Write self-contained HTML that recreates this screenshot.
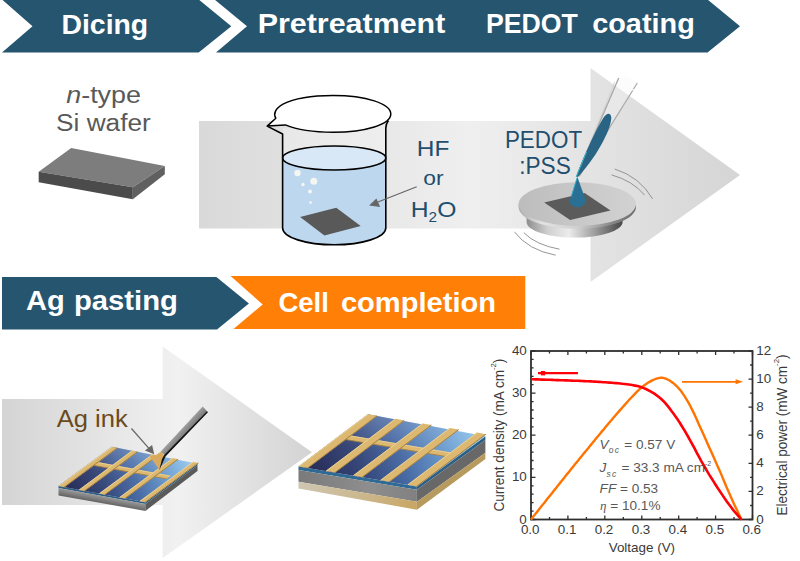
<!DOCTYPE html>
<html><head><meta charset="utf-8"><title>Process flow</title>
<style>
html,body{margin:0;padding:0;background:#fff;}
body{width:800px;height:561px;overflow:hidden;}
svg{display:block;font-family:"Liberation Sans",sans-serif;}
</style></head><body>
<svg width="800" height="561" viewBox="0 0 800 561">
<rect width="800" height="561" fill="#fff"/>
<defs>
<linearGradient id="ga1" gradientUnits="userSpaceOnUse" x1="199" y1="0" x2="740" y2="0">
<stop offset="0" stop-color="#d9d9d9"/><stop offset="0.5" stop-color="#efefef"/><stop offset="1" stop-color="#d5d5d5"/></linearGradient>
<linearGradient id="ga2" gradientUnits="userSpaceOnUse" x1="0" y1="0" x2="312" y2="0">
<stop offset="0" stop-color="#d4d4d4"/><stop offset="0.57" stop-color="#f1f1f1"/><stop offset="1" stop-color="#d3d3d3"/></linearGradient>
<linearGradient id="gdisc" gradientUnits="userSpaceOnUse" x1="526" y1="0" x2="623" y2="0">
<stop offset="0" stop-color="#8c8c8c"/><stop offset="0.22" stop-color="#cfcfcf"/><stop offset="0.44" stop-color="#ececec"/><stop offset="0.7" stop-color="#a0a0a0"/><stop offset="0.9" stop-color="#626262"/><stop offset="1" stop-color="#484848"/></linearGradient>
<linearGradient id="gplate" gradientUnits="userSpaceOnUse" x1="518" y1="0" x2="637" y2="0">
<stop offset="0" stop-color="#a9a9a9"/><stop offset="0.2" stop-color="#e2e2e2"/><stop offset="0.5" stop-color="#d0d0d0"/><stop offset="0.8" stop-color="#858585"/><stop offset="1" stop-color="#6e6e6e"/></linearGradient>
<linearGradient id="gdisctop" gradientUnits="userSpaceOnUse" x1="518" y1="0" x2="637" y2="0">
<stop offset="0" stop-color="#bcbcbc"/><stop offset="0.5" stop-color="#c8c8c8"/><stop offset="1" stop-color="#d2d2d2"/></linearGradient>
<linearGradient id="gcell1" gradientUnits="userSpaceOnUse" x1="62" y1="490" x2="195" y2="462">
<stop offset="0" stop-color="#262953"/><stop offset="0.3" stop-color="#354678"/><stop offset="0.55" stop-color="#486ba5"/><stop offset="0.8" stop-color="#699dd0"/><stop offset="1" stop-color="#8fc9ef"/></linearGradient>
<linearGradient id="gcell2" gradientUnits="userSpaceOnUse" x1="302" y1="470" x2="482" y2="436">
<stop offset="0" stop-color="#252852"/><stop offset="0.3" stop-color="#334375"/><stop offset="0.55" stop-color="#4668a2"/><stop offset="0.8" stop-color="#6699cd"/><stop offset="1" stop-color="#86c1e9"/></linearGradient>
<linearGradient id="gpen" gradientUnits="userSpaceOnUse" x1="180" y1="430" x2="185.5" y2="435">
<stop offset="0" stop-color="#a2a2a2"/><stop offset="1" stop-color="#787878"/></linearGradient>
<linearGradient id="gside1" gradientUnits="userSpaceOnUse" x1="58.5" y1="487.9" x2="56.9" y2="496.6">
<stop offset="0" stop-color="#9a9a9a"/><stop offset="1" stop-color="#585858"/></linearGradient>
<linearGradient id="gside2" gradientUnits="userSpaceOnUse" x1="298" y1="0" x2="417" y2="0">
<stop offset="0" stop-color="#7a7a7a"/><stop offset="0.6" stop-color="#8e8e8e"/><stop offset="1" stop-color="#808080"/></linearGradient>
<linearGradient id="gbot2" gradientUnits="userSpaceOnUse" x1="298" y1="0" x2="417" y2="0">
<stop offset="0" stop-color="#cfc6b2"/><stop offset="0.55" stop-color="#cbb78d"/><stop offset="1" stop-color="#c9a662"/></linearGradient>
<filter id="blur" x="-30%" y="-50%" width="160%" height="200%"><feGaussianBlur stdDeviation="1.6"/></filter>
<linearGradient id="gova" gradientUnits="userSpaceOnUse" x1="58.5" y1="486.1" x2="67.4" y2="438.5">
<stop offset="0" stop-color="#cfe4ff" stop-opacity="0"/><stop offset="0.45" stop-color="#cfe4ff" stop-opacity="0.04"/><stop offset="1" stop-color="#cfe4ff" stop-opacity="0.24"/></linearGradient>
<linearGradient id="govb" gradientUnits="userSpaceOnUse" x1="298.5" y1="466.4" x2="309" y2="404.1">
<stop offset="0" stop-color="#cfe4ff" stop-opacity="0"/><stop offset="0.45" stop-color="#cfe4ff" stop-opacity="0.04"/><stop offset="1" stop-color="#cfe4ff" stop-opacity="0.24"/></linearGradient>
</defs>
<path d="M199 121 H590.5 V68 L740 175 L590.5 282 V228.5 H199 Z" fill="url(#ga1)"/>
<path d="M2 399 H162.7 V346.5 L312 452.3 L162.7 558 V505 H2 Z" fill="url(#ga2)"/>
<path d="M2 -0.5 H198.7 L231.3 26.3 L198.7 52.6 H2 L32.5 26.3 Z" fill="#26556f"/>
<path d="M214.5 -0.5 H707.5 L740 26.3 L707.5 52.6 H216 L247 26.3 Z" fill="#26556f"/>
<path d="M2 277 H216.4 L248.9 303.6 L217 329.4 H2 Z" fill="#26556f"/>
<path d="M230.6 276 H525.3 V329 H233.5 L262.7 304.5 Z" fill="#ff7f07"/>
<text x="61.5" y="33.8" font-size="27.2" fill="#fff" font-weight="bold" textLength="86.7" lengthAdjust="spacingAndGlyphs" >Dicing</text>
<text x="257.7" y="33.2" font-size="27.2" fill="#fff" font-weight="bold" textLength="187.6" lengthAdjust="spacingAndGlyphs" >Pretreatment</text>
<text x="486" y="33.2" font-size="27.2" fill="#fff" font-weight="bold" textLength="91.9" lengthAdjust="spacingAndGlyphs" >PEDOT</text>
<text x="592.2" y="33.2" font-size="27.2" fill="#fff" font-weight="bold" textLength="102.6" lengthAdjust="spacingAndGlyphs" >coating</text>
<text x="26.1" y="310" font-size="27.2" fill="#fff" font-weight="bold" textLength="38.7" lengthAdjust="spacingAndGlyphs" >Ag</text>
<text x="74" y="310" font-size="27.2" fill="#fff" font-weight="bold" textLength="103.9" lengthAdjust="spacingAndGlyphs" >pasting</text>
<text x="278.4" y="312.3" font-size="27.2" fill="#fff" font-weight="bold" textLength="50.5" lengthAdjust="spacingAndGlyphs" >Cell</text>
<text x="340.9" y="312.3" font-size="27.2" fill="#fff" font-weight="bold" textLength="155.1" lengthAdjust="spacingAndGlyphs" >completion</text>
<text x="66.2" y="103.2" font-size="23.5" fill="#595959" textLength="74.8" lengthAdjust="spacingAndGlyphs" ><tspan font-style="italic">n</tspan>-type</text>
<text x="56" y="131.2" font-size="23.5" fill="#595959" textLength="94.8" lengthAdjust="spacingAndGlyphs" >Si wafer</text>
<path d="M38.7 171.8 L71.2 147.9 L164.8 166.1 L132.8 187.3 Z" fill="#7d7d7d"/>
<path d="M38.7 171.8 L132.8 187.3 V199.3 L38.7 182.3 Z" fill="#4b4b4b"/>
<path d="M132.8 187.3 L164.8 166.1 V174.3 L132.8 199.3 Z" fill="#606060"/>
<path d="M282.6 128 V228 A51.6 16.8 0 0 0 385.8 228 V123 Z" fill="#fff" fill-opacity="0.28"/>
<path d="M282.6 158 A51.6 12 0 0 0 385.8 158 V228 A51.6 16.8 0 0 1 282.6 228 Z" fill="#bdd7ee"/>
<ellipse cx="334.2" cy="158" rx="51.6" ry="12" fill="#d9e8f6" stroke="#000" stroke-width="1.5"/>
<path d="M300.1 216.9 L336.3 207.7 L360.7 225.9 L324.4 235.6 Z" fill="#595959"/>
<circle cx="297.5" cy="173" r="3.2" fill="#f5f6f4"/>
<circle cx="313.8" cy="181.3" r="3.5" fill="#f5f6f4"/>
<circle cx="303" cy="184.5" r="1.7" fill="#f5f6f4"/>
<circle cx="310" cy="191.6" r="2" fill="#f5f6f4"/>
<circle cx="310.6" cy="202.6" r="1.4" fill="#f5f6f4"/>
<path d="M267.2 126.1 L282.6 134 V228 A51.6 16.8 0 0 0 385.8 228 V128 Q385.8 124 388.4 120.5" fill="none" stroke="#000" stroke-width="1.6" stroke-linejoin="round"/>
<path d="M267.2 126.1 L275.8 118.2 C273 113.5 275.5 108.5 283 104.2 C295 98 312 95.6 333 95.6 C366 95.6 390.8 103.5 390.8 114 C390.8 124.3 366 132.2 333 132.2 C312 132.2 296 129.3 285.4 124.9 Z" fill="#fff" stroke="#000" stroke-width="1.5" stroke-linejoin="round"/>
<line x1="416.7" y1="186.7" x2="376" y2="202.8" stroke="#666" stroke-width="1.2"/>
<path d="M369.1 205.6 L376.4 198.4 L380.2 206.9 Z" fill="#666"/>
<text x="416.8" y="156.4" font-size="22.5" fill="#1f4e6e" textLength="32.6" lengthAdjust="spacingAndGlyphs" >HF</text>
<text x="423.2" y="184.8" font-size="20.5" fill="#1f4e6e" textLength="20.3" lengthAdjust="spacingAndGlyphs" >or</text>
<text x="410.8" y="217.3" font-size="22.5" fill="#1f4e6e" textLength="45.6" lengthAdjust="spacingAndGlyphs" >H<tspan font-size="14" dy="4.5">2</tspan><tspan dy="-4.5">O</tspan></text>
<text x="504.9" y="148.4" font-size="23.5" fill="#1f4e6e" textLength="77.2" lengthAdjust="spacingAndGlyphs" >PEDOT</text>
<text x="519.2" y="174" font-size="23.5" fill="#1f4e6e" textLength="51.6" lengthAdjust="spacingAndGlyphs" >:PSS</text>
<path d="M526.6 212 V222 A48 15.6 0 0 0 622.6 222 V212 Z" fill="url(#gdisc)"/>
<path d="M518.6 204.1 V207.1 A58.7 21.8 0 0 0 636 207.1 V204.1 Z" fill="url(#gplate)"/>
<ellipse cx="577.3" cy="204.1" rx="58.7" ry="21.8" fill="url(#gdisctop)"/>
<path d="M544.2 202.5 L584.6 193.1 L610.5 210.6 L570.1 219.9 Z" fill="#5b5b5b"/>
<path d="M577.3 176.8 L569.7 200.8 C569.4 209.6 585.9 209.2 585.7 200 Z" fill="#2a7095"/>
<path d="M577 178 L571.3 196.5" stroke="#36b3cb" stroke-width="0.9" fill="none"/>
<ellipse cx="627.3" cy="79.5" rx="12.5" ry="6.5" transform="rotate(13 627.3 79.5)" fill="#fff" filter="url(#blur)"/>
<path d="M576.4 176.7 L618.7 78.4 Q627 72.5 637.2 83 L579.2 176.4 Z" fill="#f6f6f6" fill-opacity="0.35"/>
<path d="M576.2 176.7 L614.7 82" stroke="#d2d2d2" stroke-width="0.9" fill="none"/>
<path d="M576.4 176.7 L618.7 78" stroke="#a6a6a6" stroke-width="1.3" fill="none"/>
<path d="M579.2 176.4 L637.3 83" stroke="#ababab" stroke-width="1.3" fill="none"/>
<path d="M621 88.5 Q627.5 92 634 89.5" stroke="#fbfbfb" stroke-width="1.2" fill="none"/>
<path d="M576.3 176.7 C581 162 597 127 604.3 116.6 C607 112.4 611.2 112.8 611.3 117.5 C611.4 127 600 153 578.2 176.7 Z" fill="#2a6485"/>
<path d="M576.3 176.5 L586.5 152" stroke="#3fc0d0" stroke-width="1" fill="none"/>
<path d="M614.7 169 Q640 177 652.6 198.9" stroke="#8a8a8a" stroke-width="0.9" fill="none"/>
<path d="M611.6 174.9 Q633 181 644.5 195" stroke="#8a8a8a" stroke-width="0.9" fill="none"/>
<path d="M514.4 231.8 Q528 250 555.7 255.2" stroke="#8a8a8a" stroke-width="0.9" fill="none"/>
<path d="M523.8 232.7 Q536 245 559.5 249.2" stroke="#8a8a8a" stroke-width="0.9" fill="none"/>
<path d="M58.5 486.1 L145.4 502.3 L145.4 504.1 L58.5 487.9 Z" fill="#2d5f86" />
<path d="M145.4 502.3 L197.5 463.7 L197.5 465.5 L145.4 504.1 Z" fill="#2d5f86" />
<path d="M58.5 487.9 L145.4 504.1 L145.4 510.9 L58.5 495.4 Z" fill="url(#gside1)" />
<path d="M145.4 504.1 L197.5 465.5 L197.5 471.1 L145.4 510.9 Z" fill="#5a5a5a" />
<path d="M58.5 486.1 L111.8 446.8 L197.5 463.7 L145.4 502.3 Z" fill="url(#gcell1)" />
<path d="M58.5 486.1 L111.8 446.8 L197.5 463.7 L145.4 502.3 Z" fill="url(#gova)" />
<path d="M90.7 464.8 L95.0 461.6 L170.6 475.7 L166.3 478.9 Z" fill="#dcb870" />
<path d="M90.7 464.8 L166.3 478.9" stroke="#a5803f" stroke-width="0.9"/>
<path d="M95.0 462.0 L170.6 476.1" stroke="#efd8a0" stroke-width="0.7"/>
<path d="M58.5 486.1 L111.8 446.8 L117.7 447.9 L64.4 487.2 Z" fill="#dcb870" />
<path d="M64.0 487.2 L117.3 447.9" stroke="#a5803f" stroke-width="1"/>
<path d="M59.0 486.1 L112.3 446.8" stroke="#f0d9a2" stroke-width="0.8"/>
<path d="M78.7 489.9 L132.0 450.6 L138.0 451.7 L84.7 491.0 Z" fill="#dcb870" />
<path d="M84.3 491.0 L137.6 451.7" stroke="#a5803f" stroke-width="1"/>
<path d="M79.2 489.9 L132.5 450.6" stroke="#f0d9a2" stroke-width="0.8"/>
<path d="M99.0 493.6 L152.3 454.3 L158.2 455.5 L104.9 494.8 Z" fill="#dcb870" />
<path d="M104.5 494.8 L157.8 455.5" stroke="#a5803f" stroke-width="1"/>
<path d="M99.5 493.6 L152.8 454.3" stroke="#f0d9a2" stroke-width="0.8"/>
<path d="M119.2 497.4 L172.5 458.1 L178.5 459.2 L125.2 498.5 Z" fill="#dcb870" />
<path d="M124.8 498.5 L178.1 459.2" stroke="#a5803f" stroke-width="1"/>
<path d="M119.7 497.4 L173.0 458.1" stroke="#f0d9a2" stroke-width="0.8"/>
<path d="M139.5 501.2 L192.8 461.9 L198.7 463.0 L145.4 502.3 Z" fill="#dcb870" />
<path d="M145.0 502.3 L198.3 463.0" stroke="#a5803f" stroke-width="1"/>
<path d="M140.0 501.2 L193.3 461.9" stroke="#f0d9a2" stroke-width="0.8"/>
<path d="M149.2 455.8 L156 455 L161.2 451.6 L164.6 456.5 L159.2 469.8 L153.2 461 Z" fill="#d9aa5c"/>
<path d="M202.7 406.4 L207.7 412.1 L165.4 455.9 L160.7 451.6 Z" fill="url(#gpen)"/>
<path d="M207.9 412.3 L165.7 456.2 L159.2 470.2 L162 459 L164.2 455 L206.9 411.2 Z" fill="#161616"/>
<line x1="131.4" y1="428.5" x2="150" y2="449.6" stroke="#666" stroke-width="1.2"/>
<path d="M154.2 454.2 L145 450.6 L152.1 444.9 Z" fill="#666"/>
<text x="56.7" y="427.3" font-size="23.5" fill="#6b4a1c" textLength="71" lengthAdjust="spacingAndGlyphs" >Ag ink</text>
<path d="M298.5 466.4 L416.9 486.4 L416.9 489.8 L298.5 469.9 Z" fill="#2e6a93" />
<path d="M416.9 486.4 L485.4 436.2 L485.4 440.0 L416.9 489.8 Z" fill="#2a5f87" />
<path d="M298.5 469.9 L416.9 489.8 L416.9 501.8 L298.5 481.8 Z" fill="url(#gside2)" />
<path d="M416.9 489.8 L485.4 440.0 L485.4 452.7 L416.9 501.8 Z" fill="#686868" />
<path d="M298.5 481.8 L416.9 501.8 L416.9 509.8 L298.5 488.4 Z" fill="url(#gbot2)" />
<path d="M416.9 501.8 L485.4 452.7 L485.4 459.0 L416.9 509.8 Z" fill="#b79a5e" />
<path d="M298.5 466.4 L367.9 414.2 L485.4 436.2 L416.9 486.4 Z" fill="url(#gcell2)" />
<path d="M298.5 466.4 L367.9 414.2 L485.4 436.2 L416.9 486.4 Z" fill="url(#govb)" />
<path d="M339.9 438.6 L345.1 434.6 L456.4 453.4 L451.2 457.4 Z" fill="#dcb870" />
<path d="M339.9 438.6 L451.2 457.4" stroke="#a5803f" stroke-width="0.9"/>
<path d="M345.1 435.0 L456.4 453.8" stroke="#efd8a0" stroke-width="0.7"/>
<path d="M298.5 466.4 L367.9 414.2 L377.4 415.8 L308.0 468.0 Z" fill="#dcb870" />
<path d="M307.6 468.0 L377.0 415.8" stroke="#a5803f" stroke-width="1"/>
<path d="M299.0 466.4 L368.4 414.2" stroke="#f0d9a2" stroke-width="0.8"/>
<path d="M325.7 471.0 L395.1 418.8 L404.6 420.4 L335.2 472.6 Z" fill="#dcb870" />
<path d="M334.8 472.6 L404.2 420.4" stroke="#a5803f" stroke-width="1"/>
<path d="M326.2 471.0 L395.6 418.8" stroke="#f0d9a2" stroke-width="0.8"/>
<path d="M353.0 475.6 L422.4 423.4 L431.8 425.0 L362.4 477.2 Z" fill="#dcb870" />
<path d="M362.0 477.2 L431.4 425.0" stroke="#a5803f" stroke-width="1"/>
<path d="M353.5 475.6 L422.9 423.4" stroke="#f0d9a2" stroke-width="0.8"/>
<path d="M380.2 480.2 L449.6 428.0 L459.1 429.6 L389.7 481.8 Z" fill="#dcb870" />
<path d="M389.3 481.8 L458.7 429.6" stroke="#a5803f" stroke-width="1"/>
<path d="M380.7 480.2 L450.1 428.0" stroke="#f0d9a2" stroke-width="0.8"/>
<path d="M407.4 484.8 L476.8 432.6 L486.3 434.2 L416.9 486.4 Z" fill="#dcb870" />
<path d="M416.5 486.4 L485.9 434.2" stroke="#a5803f" stroke-width="1"/>
<path d="M407.9 484.8 L477.3 432.6" stroke="#f0d9a2" stroke-width="0.8"/>
<rect x="531.0" y="351.0" width="221.5" height="168.5" fill="#fff" stroke="#2e2e2e" stroke-width="1.8"/>
<path d="M531.0 519.5 v-4 M531.0 351.0 v4 M549.5 519.5 v-2.5 M549.5 351.0 v2.5 M567.9 519.5 v-4 M567.9 351.0 v4 M586.4 519.5 v-2.5 M586.4 351.0 v2.5 M604.8 519.5 v-4 M604.8 351.0 v4 M623.3 519.5 v-2.5 M623.3 351.0 v2.5 M641.8 519.5 v-4 M641.8 351.0 v4 M660.2 519.5 v-2.5 M660.2 351.0 v2.5 M678.7 519.5 v-4 M678.7 351.0 v4 M697.1 519.5 v-2.5 M697.1 351.0 v2.5 M715.6 519.5 v-4 M715.6 351.0 v4 M734.0 519.5 v-2.5 M734.0 351.0 v2.5 M752.5 519.5 v-4 M752.5 351.0 v4 M531.0 519.5 h4.5 M531.0 511.1 h2.6 M531.0 502.6 h2.6 M531.0 494.2 h2.6 M531.0 485.8 h2.6 M531.0 477.4 h4.5 M531.0 468.9 h2.6 M531.0 460.5 h2.6 M531.0 452.1 h2.6 M531.0 443.7 h2.6 M531.0 435.2 h4.5 M531.0 426.8 h2.6 M531.0 418.4 h2.6 M531.0 410.0 h2.6 M531.0 401.6 h2.6 M531.0 393.1 h4.5 M531.0 384.7 h2.6 M531.0 376.3 h2.6 M531.0 367.9 h2.6 M531.0 359.4 h2.6 M531.0 351.0 h4.5 M752.5 519.5 h-4 M752.5 505.5 h-2.4 M752.5 491.4 h-4 M752.5 477.4 h-2.4 M752.5 463.3 h-4 M752.5 449.3 h-2.4 M752.5 435.2 h-4 M752.5 421.2 h-2.4 M752.5 407.2 h-4 M752.5 393.1 h-2.4 M752.5 379.1 h-4 M752.5 365.0 h-2.4 M752.5 351.0 h-4" stroke="#2e2e2e" stroke-width="1.3" fill="none"/>
<text x="530.2" y="533.6" font-size="13.4" fill="#3a3a3a" text-anchor="middle" >0.0</text>
<text x="567.1" y="533.6" font-size="13.4" fill="#3a3a3a" text-anchor="middle" >0.1</text>
<text x="604.0" y="533.6" font-size="13.4" fill="#3a3a3a" text-anchor="middle" >0.2</text>
<text x="641.0" y="533.6" font-size="13.4" fill="#3a3a3a" text-anchor="middle" >0.3</text>
<text x="677.9" y="533.6" font-size="13.4" fill="#3a3a3a" text-anchor="middle" >0.4</text>
<text x="714.8" y="533.6" font-size="13.4" fill="#3a3a3a" text-anchor="middle" >0.5</text>
<text x="751.7" y="533.6" font-size="13.4" fill="#3a3a3a" text-anchor="middle" >0.6</text>
<text x="526.8" y="523.5" font-size="13.4" fill="#3a3a3a" text-anchor="end" >0</text>
<text x="526.8" y="481.4" font-size="13.4" fill="#3a3a3a" text-anchor="end" >10</text>
<text x="526.8" y="439.2" font-size="13.4" fill="#3a3a3a" text-anchor="end" >20</text>
<text x="526.8" y="397.1" font-size="13.4" fill="#3a3a3a" text-anchor="end" >30</text>
<text x="526.8" y="355.0" font-size="13.4" fill="#3a3a3a" text-anchor="end" >40</text>
<text x="756.3" y="523.5" font-size="13.4" fill="#3a3a3a" >0</text>
<text x="756.3" y="495.4" font-size="13.4" fill="#3a3a3a" >2</text>
<text x="756.3" y="467.3" font-size="13.4" fill="#3a3a3a" >4</text>
<text x="756.3" y="439.2" font-size="13.4" fill="#3a3a3a" >6</text>
<text x="756.3" y="411.2" font-size="13.4" fill="#3a3a3a" >8</text>
<text x="756.3" y="383.1" font-size="13.4" fill="#3a3a3a" >10</text>
<text x="756.3" y="355.0" font-size="13.4" fill="#3a3a3a" >12</text>
<text x="641.9" y="552.3" font-size="13.4" fill="#3a3a3a" text-anchor="middle" textLength="66.4" lengthAdjust="spacingAndGlyphs" >Voltage (V)</text>
<text transform="translate(503.8 511.6) rotate(-90)" font-size="14" fill="#3a3a3a" textLength="153" lengthAdjust="spacingAndGlyphs">Current density (mA cm<tspan font-size="8" dy="-7.6">-2</tspan><tspan dy="7.6">)</tspan></text>
<text transform="translate(787 515.5) rotate(-90)" font-size="14" fill="#3a3a3a" textLength="161" lengthAdjust="spacingAndGlyphs">Electrical power (mW cm<tspan font-size="8" dy="-7.6">-2</tspan><tspan dy="7.6">)</tspan></text>
<path d="M531.0 519.5 L533.1 516.8 L535.3 514.1 L537.4 511.4 L539.5 508.8 L541.6 506.1 L543.8 503.4 L545.9 500.7 L548.0 498.0 L550.1 495.4 L552.3 492.7 L554.4 490.0 L556.5 487.4 L558.6 484.7 L560.8 482.1 L562.9 479.4 L565.0 476.8 L567.1 474.1 L569.3 471.5 L571.4 468.8 L573.5 466.2 L575.6 463.6 L577.8 460.9 L579.9 458.3 L582.0 455.7 L584.1 453.1 L586.3 450.5 L588.4 447.9 L590.5 445.3 L592.6 442.7 L594.8 440.1 L596.9 437.5 L599.0 435.0 L601.1 432.4 L603.3 429.9 L605.4 427.3 L607.5 424.8 L609.6 422.3 L611.8 419.8 L613.9 417.3 L616.0 414.8 L618.1 412.4 L620.3 409.9 L622.4 407.5 L624.5 405.1 L626.6 402.7 L628.8 400.3 L630.9 398.0 L633.0 395.8 L635.1 393.6 L637.3 391.4 L639.4 389.4 L641.5 387.6 L643.7 385.8 L645.8 384.2 L647.9 382.8 L650.0 381.6 L652.2 380.4 L654.3 379.5 L656.4 378.7 L658.5 378.1 L660.7 377.8 L662.8 377.8 L664.9 378.3 L667.0 379.2 L669.2 380.3 L671.3 381.7 L673.4 383.2 L675.5 385.1 L677.7 387.2 L679.8 389.6 L681.9 392.3 L684.0 395.4 L686.2 398.8 L688.3 402.4 L690.4 406.3 L692.5 410.4 L694.7 414.9 L696.8 419.6 L698.9 424.4 L701.0 429.0 L703.2 433.7 L705.3 438.4 L707.4 443.2 L709.5 447.9 L711.7 452.7 L713.8 457.5 L715.9 462.2 L718.0 467.1 L720.2 471.9 L722.3 476.9 L724.4 482.0 L726.5 487.0 L728.7 491.9 L730.8 496.7 L732.9 501.4 L735.0 506.0 L737.2 510.6 L739.3 515.1 L741.4 519.5" stroke="#ff7300" stroke-width="2.4" fill="none" stroke-linejoin="round"/>
<path d="M531.0 379.2 L533.1 379.3 L535.3 379.4 L537.4 379.4 L539.5 379.5 L541.6 379.6 L543.8 379.6 L545.9 379.7 L548.0 379.8 L550.1 379.8 L552.3 379.9 L554.4 380.0 L556.5 380.1 L558.6 380.1 L560.8 380.2 L562.9 380.3 L565.0 380.4 L567.1 380.4 L569.3 380.5 L571.4 380.6 L573.5 380.7 L575.6 380.7 L577.8 380.8 L579.9 380.9 L582.0 381.0 L584.1 381.1 L586.3 381.2 L588.4 381.3 L590.5 381.4 L592.6 381.5 L594.8 381.6 L596.9 381.8 L599.0 381.9 L601.1 382.0 L603.3 382.2 L605.4 382.3 L607.5 382.5 L609.6 382.6 L611.8 382.8 L613.9 383.0 L616.0 383.1 L618.1 383.3 L620.3 383.5 L622.4 383.8 L624.5 384.0 L626.6 384.2 L628.8 384.5 L630.9 384.8 L633.0 385.2 L635.1 385.6 L637.3 386.0 L639.4 386.6 L641.5 387.3 L643.7 388.1 L645.8 389.0 L647.9 390.0 L650.0 391.1 L652.2 392.4 L654.3 393.7 L656.4 395.1 L658.5 396.7 L660.7 398.5 L662.8 400.5 L664.9 402.7 L667.0 405.2 L669.2 407.9 L671.3 410.7 L673.4 413.5 L675.5 416.5 L677.7 419.6 L679.8 422.8 L681.9 426.2 L684.0 429.7 L686.2 433.3 L688.3 437.0 L690.4 440.8 L692.5 444.7 L694.7 448.7 L696.8 452.8 L698.9 456.7 L701.0 460.6 L703.2 464.3 L705.3 468.0 L707.4 471.6 L709.5 475.1 L711.7 478.5 L713.8 481.9 L715.9 485.2 L718.0 488.5 L720.2 491.7 L722.3 494.9 L724.4 498.0 L726.5 501.1 L728.7 504.0 L730.8 506.8 L732.9 509.6 L735.0 512.2 L737.2 514.7 L739.3 517.2 L741.4 519.5" stroke="#ff0008" stroke-width="2.6" fill="none" stroke-linejoin="round"/>
<path d="M538 373.2 H578" stroke="#ff0008" stroke-width="2.2"/><rect x="540.9" y="371" width="4.2" height="4.4" fill="#ff0008"/>
<path d="M682 381.8 H739" stroke="#ff7300" stroke-width="1.7"/><path d="M743 381.8 L735.6 379.3 V384.3 Z" fill="#ff7300"/>
<text x="599.6" y="448.5" font-size="13.6" fill="#595959"><tspan font-style="italic">V</tspan><tspan font-size="8.5" font-style="italic" dy="4.6" letter-spacing="1.4">oc</tspan><tspan dy="-4.6"> = 0.57 V</tspan></text>
<text x="599.6" y="472" font-size="13.6" fill="#595959"><tspan font-style="italic">J</tspan><tspan font-size="8.5" font-style="italic" dy="4.6" letter-spacing="1.4">sc</tspan><tspan dy="-4.6"> = 33.3 mA cm</tspan><tspan font-size="7" dy="-6">-2</tspan></text>
<text x="599.6" y="492.7" font-size="13.6" fill="#595959"><tspan font-style="italic">FF</tspan> = 0.53</text>
<text x="600" y="510" font-size="13.6" fill="#595959"><tspan font-style="italic" font-family="Liberation Serif" font-size="13">η</tspan> = 10.1%</text>
</svg>
</body></html>
